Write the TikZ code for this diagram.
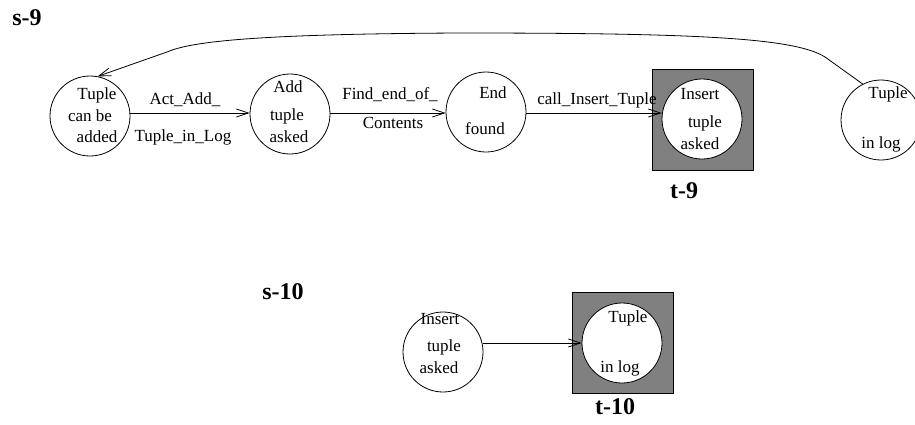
\documentclass[tikz,border=0pt]{standalone}
\usepackage{fontspec}
\setmainfont{Liberation Serif}
\usetikzlibrary{arrows.meta,positioning}
\definecolor{boxgray}{HTML}{808080}

\begin{document}
\begin{tikzpicture}[x=1pt,y=-1pt,
  stnode/.style={circle,draw=black,fill=white,line width=0.8pt,minimum size=80pt,inner sep=0pt},
  goal/.style={rectangle,draw=black,fill=boxgray,line width=0.8pt,minimum size=101pt,inner sep=0pt},
  txt/.style={inner sep=0pt,font=\fontsize{17}{20}\selectfont},
  tag/.style={inner sep=0pt,font=\fontsize{24}{28}\selectfont\bfseries},
  arc/.style={-{Straight Barb[length=12pt,width=8pt]},line width=0.8pt}]
  \useasboundingbox (0,0) rectangle (915,424);

  % upper row, s-9
  \node[tag] (s9) at (27,18) {s-9};
  \node[stnode] (added) at (90,116) {};
  \node[txt] at (97,95) {Tuple};
  \node[txt] at (90,116) {can be};
  \node[txt] at (97,137) {added};

  \node[stnode] (add) at (290,114) {};
  \node[txt] at (288,87) {Add};
  \node[txt] at (287,116) {tuple};
  \node[txt] at (289,137) {asked};

  \node[stnode] (end) at (486,112) {};
  \node[txt] at (493,93) {End};
  \node[txt] at (485,129) {found};

  \node[goal] (t9box) at (702.5,120) {};
  \node[stnode] (insert) at (702,119) {};
  \node[txt] at (700,94) {Insert};
  \node[txt] at (705,123) {tuple};
  \node[txt] at (700,144) {asked};
  \node[tag] (t9) at (684,191) {t-9};

  \node[stnode] (inlog) at (881,120) {};
  \node[txt] at (888,94) {Tuple};
  \node[txt] at (881,144) {in log};

  \draw[arc] (added.east |- 0,113) coordinate (a1) -- (add.west |- a1);
  \node[txt] at (185,100) {Act\_Add\_};
  \node[txt] at (183,137) {Tuple\_in\_Log};
  \draw[arc] (add.east |- 0,113) coordinate (a2) -- (end.west |- a2);
  \node[txt] at (390,95) {Find\_end\_of\_};
  \node[txt] at (393,123) {Contents};
  \draw[arc] (end.east |- 0,113) coordinate (a3) -- (insert.west |- a3);
  \node[txt] at (597,100) {call\_Insert\_Tuple};

  \draw[arc] (inlog.117) -- (825,57) .. controls (795,38) and (700,33) .. (460,33)
    .. controls (250,34) and (190,42) .. (167,52) -- (added.79);

  % lower row, s-10
  \node[tag] (s10) at (283,292) {s-10};
  \node[stnode] (insert2) at (443,352) {};
  \node[txt] at (440,319) {Insert};
  \node[txt] at (444,347) {tuple};
  \node[txt] at (439,368) {asked};

  \node[goal] (t10box) at (622.5,343) {};
  \node[stnode] (inlog2) at (622,343) {};
  \node[txt] at (628,318) {Tuple};
  \node[txt] at (620,368) {in log};
  \node[tag] (t10) at (615,407) {t-10};

  \draw[arc] (insert2.east |- 0,343) coordinate (a4) -- (inlog2.west |- a4);
\end{tikzpicture}
\end{document}
